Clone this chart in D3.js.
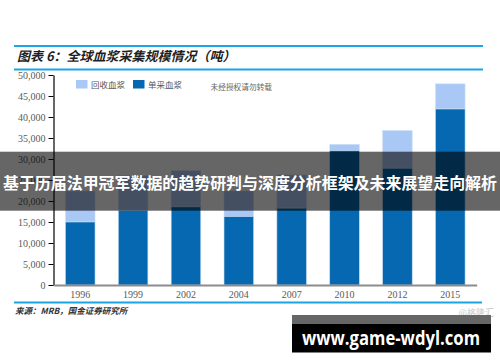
<!DOCTYPE html>
<html><head><meta charset="utf-8">
<script src="https://cdn.jsdelivr.net/npm/d3@7"></script>
<style>
html,body{margin:0;padding:0;background:#fff;}
svg{display:block;}
</style></head>
<body>
<svg id="chart" width="500" height="362"></svg>
<script>
const years = ['1996','1999','2002','2004','2007','2010','2012','2015'];
const singleValues = [15000, 17800, 18600, 16300, 18300, 32000, 27800, 41900];   // 单采血浆
const recoveredValues = [7400, 8200, 8600, 6100, 7900, 1500, 9000, 6000];        // 回收血浆
const yTicks = [0,5000,10000,15000,20000,25000,30000,35000,40000,45000,50000];
const seriesNames = ['回收血浆','单采血浆'];
const titleText = '图表 6：全球血浆采集规模情况（吨）';
const sourceText = '来源：MRB，国金证券研究所';
const overlayText = '基于历届法甲冠军数据的趋势研判与深度分析框架及未来展望走向解析';

const cLight = '#aac8f5', cDark = '#0568b0', cLine = '#1ba4e6';
const svg = d3.select('#chart');
const serif = '"Liberation Serif","DejaVu Serif",serif';
const cjk = '"Noto Sans CJK SC","Noto Sans",sans-serif';

// header lines and title
svg.append('rect').attr('x',14).attr('y',45).attr('width',469).attr('height',2).attr('fill',cLine);
svg.append('rect').attr('x',14).attr('y',68.5).attr('width',469).attr('height',2).attr('fill',cLine);
svg.append('text').attr('x',17).attr('y',60.5).text(titleText)
  .attr('font-family',cjk).attr('font-size',13).attr('font-weight','bold').attr('font-style','italic').attr('fill','#1f1f1f');

const x = d3.scaleBand().domain(years).range([53.8, 476.7]).paddingInner(0.44).paddingOuter(0.22);
const y = d3.scaleLinear().domain([0,50000]).range([285,75]);

// bars
const g = svg.append('g');
years.forEach((yr,i)=>{
  const s = singleValues[i], r = recoveredValues[i];
  g.append('rect').attr('x',x(yr)).attr('width',x.bandwidth())
    .attr('y',y(s+r)).attr('height',y(s)-y(s+r)).attr('fill',cLight)
    .attr('stroke','#d3e2f7').attr('stroke-width',0.6);
  g.append('rect').attr('x',x(yr)).attr('width',x.bandwidth())
    .attr('y',y(s)).attr('height',y(0)-y(s)).attr('fill',cDark)
    .attr('stroke','#c9dcf3').attr('stroke-width',0.6);
});

// y axis
const ya = svg.append('g').attr('transform','translate(53.5,0)')
  .call(d3.axisLeft(y).tickValues(yTicks).tickFormat(d3.format(',')).tickSize(5).tickSizeOuter(0).tickPadding(3));
ya.select('.domain').attr('stroke','#000').attr('stroke-width',1.2);
ya.selectAll('.tick line').attr('stroke','#000');
ya.selectAll('.tick text').attr('font-family',serif).attr('font-size',10).attr('fill','#595959');

// x axis
const xa = svg.append('g').attr('transform','translate(0,285)')
  .call(d3.axisBottom(x).tickSize(0).tickPadding(6));
xa.select('.domain').attr('stroke','#8c8c8c').attr('stroke-width',2);
xa.selectAll('.tick text').attr('font-family',serif).attr('font-size',10).attr('fill','#595959');

// legend
const legend = [{name:seriesNames[0],c:cLight,x:76},{name:seriesNames[1],c:cDark,x:133}];
legend.forEach(l=>{
  svg.append('rect').attr('x',l.x).attr('y',80).attr('width',11.5).attr('height',8.5).attr('fill',l.c);
  svg.append('text').attr('x',l.x+15).attr('y',87.5).text(l.name)
    .attr('font-family',cjk).attr('font-size',8.5).attr('fill','#555');
});
svg.append('text').attr('x',210.5).attr('y',90).text('未经授权请勿转载')
  .attr('font-family',cjk).attr('font-size',7.7).attr('fill','#666');

// bottom line and source
svg.append('rect').attr('x',14).attr('y',301.5).attr('width',468).attr('height',2).attr('fill',cLine);
svg.append('text').attr('x',15).attr('y',314).text(sourceText)
  .attr('font-family',cjk).attr('font-size',8.5).attr('font-weight','bold').attr('font-style','italic').attr('fill','#333');
svg.append('text').attr('x',494).attr('y',316).attr('text-anchor','end').text('@格隆汇')
  .attr('font-family',cjk).attr('font-size',9).attr('fill','#c8c8c8');

// overlay band
svg.append('rect').attr('x',0).attr('y',151.7).attr('width',500).attr('height',59).attr('fill','rgba(0,0,0,0.6)');
svg.append('text').attr('x',250).attr('y',189).attr('text-anchor','middle').text(overlayText)
  .attr('font-family',cjk).attr('font-size',16).attr('font-weight','bold').attr('fill','#fff')
  .attr('textLength',494).attr('lengthAdjust','spacingAndGlyphs');

// watermark box
svg.append('rect').attr('x',292).attr('y',315).attr('width',199).attr('height',9).attr('fill','#666');
svg.append('rect').attr('x',292).attr('y',324).attr('width',199).attr('height',28.5).attr('fill','#000');
svg.append('text').attr('x',391).attr('y',344.5).attr('text-anchor','middle').text('www.game-wdyl.com')
  .attr('font-family','"Open Sans","DejaVu Sans",sans-serif').attr('font-size',20).attr('font-weight','bold').attr('fill','#fff')
  .attr('textLength',178).attr('lengthAdjust','spacingAndGlyphs');
</script>
</body></html>
